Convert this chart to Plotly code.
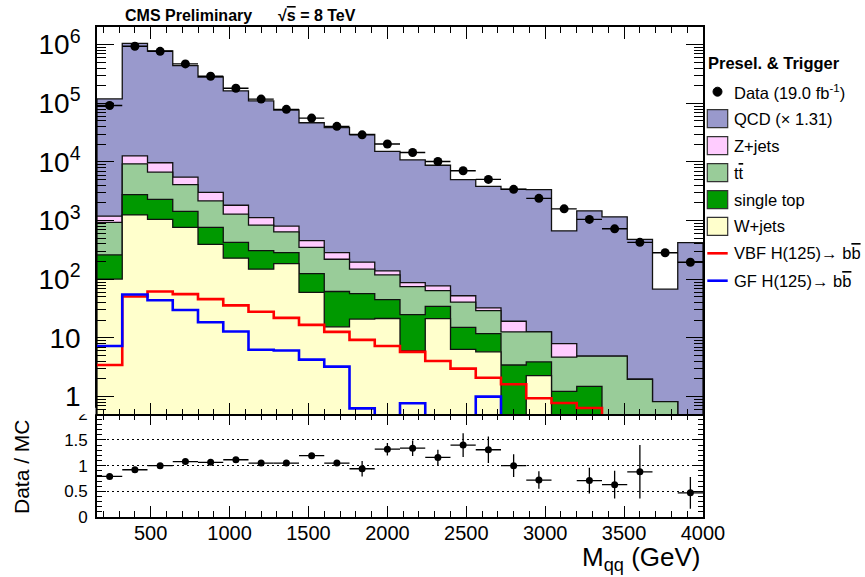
import numpy as np
import plotly.graph_objects as go

# ---------------- data ----------------
edges = [160, 320, 480, 640, 800, 960, 1120, 1280, 1440, 1600, 1760, 1920, 2080,
         2240, 2400, 2560, 2720, 2880, 3040, 3200, 3360, 3520, 3680, 3840, 4000]

wjets = [101, 1250, 1055, 767, 395, 229, 149, 185, 60, 15.5, 21, 21.5,
         6.0, 21.4, 6.4, 5.8, 0, 2.29, 0, 0, 0, 0, 0, 0]
single_top = [159, 1530, 1255, 673, 372, 198, 159, 99, 65, 46.5, 36, 23.5,
              19, 13.2, 8.8, 6.1, 3.46, 1.61, 1.23, 1.5, 0, 0, 0, 0]
ttbar = [671, 6520, 4390, 2660, 1403, 863, 531, 362, 226, 158, 92, 74,
         50, 29.4, 25.8, 17.3, 9.24, 8.8, 3.5, 3.4, 4.9, 1.98, 0.82, 0]
zjets = [259, 3400, 3000, 1400, 870, 540, 291, 161, 104, 64, 47, 20,
         13, 13, 11.5, 3.3, 6.6, 0, 3.27, 0, 0, 0, 0, 0]
qcd = [1.178e5, 1.037e6, 7.70e5, 4.345e5, 2.78e5, 1.612e5, 1.089e5, 7.62e4, 4.62e4,
       3.82e4, 2.94e4, 1.506e4, 1.08e4, 8.72e3, 4.94e3, 3.82e3, 3.40e3, 3.37e3,
       663, 1465, 1155, 478, 67, 421]
data = [9.2e4, 9.4e5, 7.7e5, 4.7e5, 2.89e5, 1.81e5, 1.18e5, 7.9e4, 5.6e4, 4.05e4,
        2.9e4, 2.03e4, 1.45e4, 1.02e4, 7.1e3, 5.05e3, 3.42e3, 2.4e3, 1.59e3,
        1.05e3, 726, 427, 284, 195]
vbf = [3.46, 51, 62, 56, 46, 36, 28, 22, 16.7, 12.7, 9.3, 7.3,
       5.8, 4.05, 3.0, 2.1, 1.63, 0.94, 0.78, 0.64, 0, 0, 0, 0]
gf = [7.3, 55, 44, 30, 18.5, 12.9, 6.3, 6.1, 4.27, 3.25, 0.63, 0,
      0.77, 0, 0, 1.0, 0, 0, 0, 0, 0, 0, 0, 0]
ratio = [0.79, 0.92, 1.0, 1.08, 1.065, 1.115, 1.05, 1.05, 1.195, 1.05, 0.94, 1.32,
         1.34, 1.16, 1.40, 1.31, 1.0, 0.72, None, 0.71, 0.63, 0.88, None, 0.47]
ratio_err = [0.01, 0.01, 0.01, 0.01, 0.015, 0.02, 0.02, 0.025, 0.04, 0.03, 0.15, 0.12,
             0.15, 0.15, 0.23, 0.26, 0.22, 0.17, 0, 0.25, 0.27, 0.52, 0, 0.31]

x_major = [500, 1000, 1500, 2000, 2500, 3000, 3500, 4000]
y_major = [1, 10, 100, 1e3, 1e4, 1e5, 1e6]
y_major_text = ["1", "10", "10<sup>2</sup>", "10<sup>3</sup>", "10<sup>4</sup>",
                "10<sup>5</sup>", "10<sup>6</sup>"]
r_major = [0, 0.5, 1, 1.5, 2]
r_major_text = ["0", "0.5", "1", "1.5", "2"]

C_QCD = "#9999CC"
C_Z = "#FFCCFF"
C_TT = "#99CC99"
C_ST = "#009900"
C_W = "#FFFFCC"

FONT = "Liberation Sans, Arial, Helvetica, sans-serif"
YMIN, YMAX = 0.5, 2e6
FLOOR = 1e-3

edges_a = np.array(edges, dtype=float)
centers = 0.5 * (edges_a[:-1] + edges_a[1:])
half_w = 0.5 * (edges_a[1:] - edges_a[:-1])

c_w = np.array(wjets, dtype=float)
c_st = c_w + np.array(single_top)
c_tt = c_st + np.array(ttbar)
c_z = c_tt + np.array(zjets)
c_tot = c_z + np.array(qcd)

fig = go.Figure()


def step_xy(vals):
    xs, ys = [], []
    for i, v in enumerate(vals):
        v = v if (v is not None and v > 0) else FLOOR
        xs += [edges_a[i], edges_a[i + 1]]
        ys += [v, v]
    return xs, ys


def add_filled(vals, color):
    xs, ys = step_xy(vals)
    xs = [edges_a[0]] + xs + [edges_a[-1], edges_a[0]]
    ys = [FLOOR] + ys + [FLOOR, FLOOR]
    fig.add_trace(go.Scatter(x=xs, y=ys, mode="lines", fill="toself", fillcolor=color,
                             line=dict(color="#111111", width=1.3),
                             xaxis="x2", yaxis="y2", hoverinfo="skip", showlegend=False))


for vals, col in [(c_tot, C_QCD), (c_z, C_Z), (c_tt, C_TT), (c_st, C_ST), (c_w, C_W)]:
    add_filled(vals, col)

for vals, col in [(vbf, "#FF0000"), (gf, "#0000FF")]:
    xs, ys = step_xy(vals)
    fig.add_trace(go.Scatter(x=xs, y=ys, mode="lines", line=dict(color=col, width=2.6),
                             xaxis="x2", yaxis="y2", hoverinfo="skip", showlegend=False))

fig.add_trace(go.Scatter(x=centers, y=data, mode="markers",
                         marker=dict(size=9, color="black"),
                         error_x=dict(type="data", array=half_w, width=0, thickness=1.4, color="black"),
                         xaxis="x2", yaxis="y2", showlegend=False))

fig.add_trace(go.Scatter(x=centers, y=ratio, mode="markers",
                         marker=dict(size=7, color="black"),
                         error_x=dict(type="data", array=half_w, width=0, thickness=1.3, color="black"),
                         error_y=dict(type="data", array=ratio_err, width=0, thickness=1.3, color="black"),
                         xaxis="x", yaxis="y", showlegend=False))

# ---------------- layout ----------------
L, R, T, B = 97, 703, 27, 517
W_PX, H_PX = R - L, B - T
split_px = 414.3
rdom = (B - split_px) / H_PX


def px(xp):
    return (xp - L) / W_PX


def py(yp):
    return (B - yp) / H_PX


x_minor = [v for v in range(200, 4000, 100) if v % 500 != 0]
y_minor = [k * 10.0 ** d for d in range(-1, 7) for k in range(2, 10)
           if YMIN < k * 10.0 ** d < YMAX]

axis_common = dict(showline=True, linecolor="black", linewidth=1.6, mirror="allticks",
                   ticks="inside", tickcolor="black", tickwidth=1.2, zeroline=False)

fig.update_layout(
    width=865, height=577,
    margin=dict(l=L, r=865 - R, t=T, b=577 - B, pad=0),
    paper_bgcolor="white", plot_bgcolor="white", showlegend=False,
    font=dict(family=FONT, color="black"),
    xaxis=dict(domain=[0, 1], anchor="y", range=[edges[0], edges[-1]],
               tickmode="array", tickvals=x_major, ticktext=[str(v) for v in x_major],
               ticklen=11, tickfont=dict(size=20, family=FONT), ticklabelstandoff=-3,
               minor=dict(tickvals=x_minor, ticklen=6, ticks="inside", tickcolor="black", tickwidth=1.1),
               showgrid=False, **axis_common),
    yaxis=dict(domain=[0, rdom], anchor="x", range=[0, 2],
               tickmode="array", tickvals=r_major, ticktext=r_major_text,
               ticklen=9, tickfont=dict(size=17, family=FONT), ticklabelstandoff=4,
               minor=dict(tick0=0, dtick=0.1, ticklen=5, ticks="inside", tickcolor="black", tickwidth=1.1),
               showgrid=True, gridcolor="black", griddash="2px,3px", gridwidth=1,
               **axis_common),
    xaxis2=dict(domain=[0, 1], anchor="y2", range=[edges[0], edges[-1]],
                tickmode="array", tickvals=x_major, showticklabels=False,
                ticklen=12,
                minor=dict(tickvals=x_minor, ticklen=6, ticks="inside", tickcolor="black", tickwidth=1.1),
                showgrid=False, **axis_common),
    yaxis2=dict(domain=[rdom, 1], anchor="x2", type="log",
                range=[np.log10(YMIN), np.log10(YMAX)],
                tickmode="array", tickvals=y_major, ticktext=y_major_text,
                ticklen=17, tickfont=dict(size=28, family=FONT), ticklabelstandoff=9,
                minor=dict(tickvals=y_minor, ticklen=9, ticks="inside", tickcolor="black", tickwidth=1.1),
                showgrid=False, **axis_common),
)

ann = []
shapes = []

# the upper pad hides the top half of the ratio "2" label, as in the reference
shapes.append(dict(type="rect", xref="paper", yref="paper", x0=px(60), x1=px(95.5),
                   y0=py(414.3), y1=py(407.8), fillcolor="white", line=dict(width=0),
                   layer="above"))

# title
ann.append(dict(x=px(123), y=py(16), xref="paper", yref="paper", xanchor="left", yanchor="middle",
                text="<b>CMS Preliminary</b>", showarrow=False, font=dict(size=16, family=FONT)))
ann.append(dict(x=px(276), y=py(16), xref="paper", yref="paper", xanchor="left", yanchor="middle",
                text="<b>√<span style=\"text-decoration:overline\">s</span> = 8 TeV</b>",
                showarrow=False, font=dict(size=16, family=FONT)))

# axis titles
ann.append(dict(x=px(702), y=py(558), xref="paper", yref="paper", xanchor="right", yanchor="middle",
                text="M<sub>qq</sub> (GeV)", showarrow=False, font=dict(size=26, family=FONT)))
ann.append(dict(x=px(21.5), y=py(466.5), xref="paper", yref="paper", xanchor="center", yanchor="middle",
                text="Data / MC", textangle=-90, showarrow=False, font=dict(size=21, family=FONT)))

# legend (drawn by hand)
LX0, LX1, TX = 707.3, 727.7, 731.5
ann.append(dict(x=px(706), y=py(63.3), xref="paper", yref="paper", xanchor="left", yanchor="middle",
                text="<b>Presel. & Trigger</b>", showarrow=False, font=dict(size=16.5, family=FONT)))

legend_boxes = [("QCD (× 1.31)", C_QCD, 118.7), ("Z+jets", C_Z, 145.7),
                ("t<span style=\"text-decoration:overline\">t</span>", C_TT, 172.7),
                ("single top", C_ST, 199.7), ("W+jets", C_W, 226.3)]
for label, col, yc in legend_boxes:
    shapes.append(dict(type="rect", xref="paper", yref="paper", x0=px(LX0), x1=px(LX1),
                       y0=py(yc + 9), y1=py(yc - 9), fillcolor=col,
                       line=dict(color="#333333", width=1.2)))
    ann.append(dict(x=px(TX), y=py(yc), xref="paper", yref="paper", xanchor="left", yanchor="middle",
                    text=label, showarrow=False, font=dict(size=16.5, family=FONT)))

# data entry
shapes.append(dict(type="circle", xref="paper", yref="paper", x0=px(713), x1=px(722),
                   y0=py(96.2), y1=py(87.2), fillcolor="black", line=dict(color="black", width=1)))
ann.append(dict(x=px(TX), y=py(91.7), xref="paper", yref="paper", xanchor="left", yanchor="middle",
                text="Data (19.0 fb<sup>-1</sup>)", showarrow=False, font=dict(size=16.5, family=FONT)))

for label, col, yc in [("VBF H(125)→ b<span style=\"text-decoration:overline\">b</span>", "#FF0000", 253.3),
                       ("GF H(125)→ b<span style=\"text-decoration:overline\">b</span>", "#0000FF", 280.7)]:
    shapes.append(dict(type="line", xref="paper", yref="paper", x0=px(LX0), x1=px(LX1),
                       y0=py(yc), y1=py(yc), line=dict(color=col, width=2.6)))
    ann.append(dict(x=px(TX), y=py(yc), xref="paper", yref="paper", xanchor="left", yanchor="middle",
                    text=label, showarrow=False, font=dict(size=16.5, family=FONT)))

fig.update_layout(annotations=ann, shapes=shapes)

fig.write_html("out.html")
